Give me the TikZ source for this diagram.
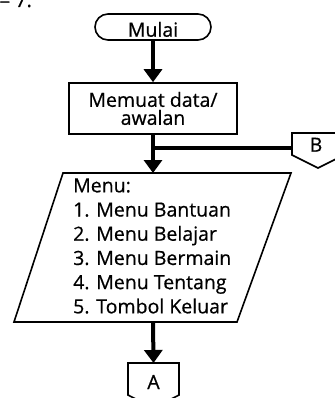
\documentclass[tikz,border=0pt]{standalone}
\usepackage{fontspec}
\setmainfont{Open Sans}[FakeBold=0.6]
\usetikzlibrary{arrows.meta}
\begin{document}
\begin{tikzpicture}[x=1pt,y=-1pt,
  every node/.style={font=\fontsize{19.5}{24.2}\selectfont, inner sep=0pt},
  shape line/.style={draw=black, line width=1.6pt, line join=miter},
  flow/.style={line width=4pt},
  flowarr/.style={line width=4pt, -{Triangle[width=18pt,length=13pt]}}]
\useasboundingbox (0,0) rectangle (334,398);
% remnant caption text
\node[anchor=base east] (cap) at (32,7) {= 7.};
% start
\node[shape line, rounded corners=13pt, minimum width=116pt, minimum height=26pt,
      text height=19.4pt, text depth=0pt] (mulai) at (153,27) {Mulai};
% process
\node[shape line, minimum width=168pt, minimum height=51pt, align=center,
      font=\fontsize{19.5}{18}\selectfont] (proc) at (153,108.5) {Memuat data/\\awalan};
% junction
\coordinate (junc) at (153,148);
% connector B
\coordinate (bw) at (292,148);
\draw[shape line] (292,133) -- (344,133) -- (344,155) -- (318,168) -- (292,155) -- cycle;
\node[anchor=base] (B) at (316,151.7) {B};
% parallelogram
\coordinate (ptop) at (153,173);
\coordinate (pbot) at (153,322);
\draw[shape line] (63,173) -- (291,173) -- (237,322) -- (14,322) -- cycle;
\node[anchor=north west, align=left] (menu) at (73,178.2)
  {Menu:\\1. Menu Bantuan\\2. Menu Belajar\\3. Menu Bermain\\4. Menu Tentang\\5. Tombol Keluar};
% connector A
\coordinate (atop) at (153.5,363);
\draw[shape line] (128,363) -- (179,363) -- (179,395) -- (153.5,408) -- (128,395) -- cycle;
\node[anchor=base] (A) at (153.5,389) {A};
% flow lines
\draw[flowarr] (mulai.south) -- (proc.north);
\draw[flow] (proc.south) -- (junc);
\draw[flow] (bw) -- (junc);
\draw[flowarr] (junc) -- (ptop);
\draw[flowarr] (pbot) -- (atop);
\end{tikzpicture}
\end{document}
